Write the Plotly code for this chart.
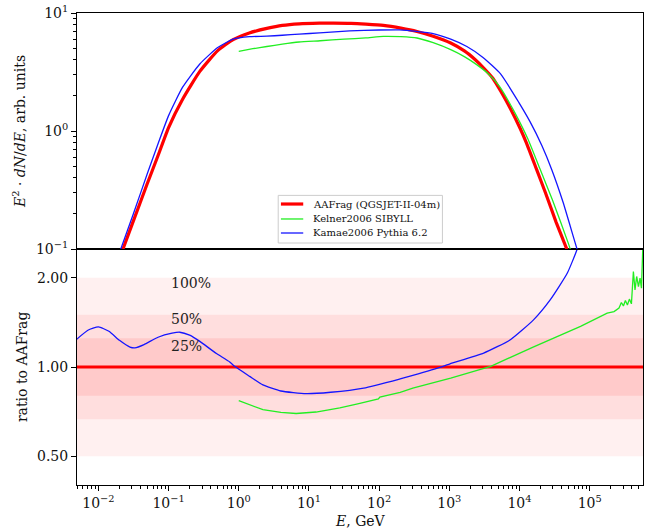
import math
import plotly.graph_objects as go

# ---------------- data ----------------
# top panel: log10(E / GeV) and E^2 dN/dE (arb. units)
aafrag_logE = [-1.65, -1.5, -1.31, -1.15, -1.0, -0.8, -0.555, -0.3, -0.08, 0.15, 0.4, 0.62,
               0.86, 1.15, 1.35, 1.6, 1.81, 2.06, 2.31, 2.54, 2.77, 3.02, 3.22, 3.37, 3.49,
               3.62, 3.74, 3.87, 4.01, 4.10, 4.245, 4.37, 4.52, 4.674, 4.72]
aafrag_flux = [0.1, 0.174, 0.35, 0.62, 1.07, 1.86, 3.2, 4.8, 5.95, 6.78, 7.4, 7.85,
               8.1, 8.2, 8.22, 8.18, 8.05, 7.85, 7.45, 6.98, 6.35, 5.57, 4.75, 4.02, 3.42,
               2.8, 2.14, 1.55, 1.05, 0.79, 0.47, 0.30, 0.17, 0.1, 0.085]

kelner_logE = [0.0, 0.2, 0.4, 0.62, 0.86, 1.16, 1.5, 1.81, 2.06, 2.31, 2.54, 2.77, 3.02,
               3.22, 3.39, 3.57, 3.72, 3.92, 4.12, 4.29, 4.47, 4.70, 4.76]
kelner_flux = [4.73, 4.98, 5.2, 5.45, 5.68, 5.82, 6.0, 6.15, 6.34, 6.3, 6.14, 5.6, 4.89,
               4.25, 3.65, 3.0, 2.37, 1.48, 0.855, 0.48, 0.26, 0.11, 0.085]

kamae_logE = [-1.70, -1.5, -1.3, -1.15, -1.0, -0.8, -0.555, -0.3, -0.08, 0.15, 0.4, 0.62,
              0.86, 1.15, 1.58, 2.0, 2.29, 2.53, 2.77, 3.02, 3.25, 3.48, 3.73, 3.99, 4.15,
              4.32, 4.46, 4.62, 4.82, 4.86]
kamae_flux = [0.093, 0.2, 0.44, 0.78, 1.35, 2.35, 3.7, 5.1, 6.0, 6.3, 6.36, 6.48,
              6.62, 6.78, 7.05, 7.18, 7.2, 7.0, 6.7, 6.0, 5.2, 4.2, 3.05, 1.75, 1.2,
              0.75, 0.47, 0.25, 0.1, 0.085]

# bottom panel: ratio to AAFrag
kamae_ratio_logE = [-2.31, -2.15, -2.0, -1.85, -1.7, -1.55, -1.48, -1.35, -1.15, -0.95, -0.84,
                    -0.7, -0.555, -0.318, -0.129, -0.058, 0.155, 0.344, 0.6, 0.96, 1.31, 1.78,
                    2.30, 2.48, 2.91, 3.01, 3.49, 3.87, 4.20, 4.44, 4.68, 4.82, 4.86]
kamae_ratio = [1.24, 1.33, 1.365, 1.32, 1.23, 1.167, 1.16, 1.19, 1.26, 1.30, 1.31,
               1.28, 1.22, 1.11, 1.04, 1.005, 0.93, 0.87, 0.83, 0.813, 0.822, 0.849,
               0.912, 0.937, 1.005, 1.025, 1.114, 1.236, 1.442, 1.687, 2.07, 2.49, 2.7]

kelner_ratio_logE = [0.0, 0.344, 0.6, 0.818, 1.1, 1.44, 1.71, 1.99, 2.01, 2.30, 2.48, 3.02,
                     3.59, 4.21, 4.87, 5.25, 5.347, 5.418, 5.452, 5.481, 5.509, 5.538, 5.566,
                     5.595, 5.623, 5.646, 5.670, 5.695, 5.718, 5.738, 5.756, 5.78]
kelner_ratio = [0.77, 0.718, 0.703, 0.697, 0.705, 0.728, 0.752, 0.78, 0.792, 0.821, 0.849, 0.918,
                1.005, 1.172, 1.371, 1.52, 1.538, 1.581, 1.65, 1.607, 1.675, 1.618, 1.694,
                1.633, 2.10, 1.82, 2.02, 1.866, 1.994, 1.845, 2.48, 2.8]

aafrag_ratio_logE = [-2.31, 5.78]
aafrag_ratio = [1.0, 1.0]

band_labels = ["100%", "50%", "25%"]
band_upper = [2.0, 1.5, 1.25]
band_lower = [0.5, 0.6667, 0.8]
band_label_y = [1.92, 1.45, 1.18]
band_colors = ["#fff0f0", "#ffdede", "#ffcaca"]

legend_names = ["AAFrag (QGSJET-II-04m)", "Kelner2006 SIBYLL", "Kamae2006 Pythia 6.2"]
series_colors = ["#ff0000", "#22ee22", "#1515ff"]
series_widths = [3.2, 1.3, 1.3]

x_tick_exp = [-2, -1, 0, 1, 2, 3, 4, 5]
top_tick_exp = [-1, 0, 1]
ratio_ticks = [0.5, 1.0, 2.0]
ratio_ticktext = ["0.50", "1.00", "2.00"]

FONT = "DejaVu Serif"


def e(logs):
    return [10 ** v for v in logs]


def sup(p):
    return "10<sup>" + ("\u2212" if p < 0 else "") + str(abs(p)) + "</sup>"


fig = go.Figure()

top_series = [(aafrag_logE, aafrag_flux), (kelner_logE, kelner_flux), (kamae_logE, kamae_flux)]
for (lx, ly), nm, col, w in zip(top_series, legend_names, series_colors, series_widths):
    fig.add_trace(go.Scatter(x=e(lx), y=ly, mode="lines", name=nm,
                             line=dict(color=col, width=w, shape="spline", smoothing=0.5),
                             showlegend=False, xaxis="x2", yaxis="y2"))

bottom_series = [(aafrag_ratio_logE, aafrag_ratio), (kelner_ratio_logE, kelner_ratio),
                 (kamae_ratio_logE, kamae_ratio)]
for i, ((lx, ly), col, w) in enumerate(zip(bottom_series, series_colors, series_widths)):
    shape = "spline" if i == 2 else "linear"
    fig.add_trace(go.Scatter(x=e(lx), y=ly, mode="lines",
                             line=dict(color=col, width=w, shape=shape, smoothing=0.5),
                             showlegend=False, xaxis="x", yaxis="y"))

shapes = []
for lo, hi, col in zip(band_lower, band_upper, band_colors):
    shapes.append(dict(type="rect", xref="x domain", yref="y", x0=0, x1=1, y0=lo, y1=hi,
                       fillcolor=col, line=dict(width=0), layer="below"))

# legend box (drawn by hand to match the compact matplotlib legend)
shapes.append(dict(type="rect", xref="paper", yref="paper", x0=0.3555, x1=0.6456,
                   y0=0.5127, y1=0.6136, fillcolor="white",
                   line=dict(color="#cccccc", width=1), layer="above"))
legend_rows_y = [0.5953, 0.5636, 0.5339]

annotations = []
for nm, col, w, ry in zip(legend_names, series_colors, series_widths, legend_rows_y):
    shapes.append(dict(type="line", xref="paper", yref="paper", x0=0.3603, x1=0.3997,
                       y0=ry, y1=ry, line=dict(color=col, width=w), layer="above"))
    annotations.append(dict(text=nm, x=0.4128, y=ry, xref="paper", yref="paper",
                            xanchor="left", yanchor="middle", showarrow=False,
                            font=dict(family=FONT, size=10, color="#111111")))

for lab, yv in zip(band_labels, band_label_y):
    annotations.append(dict(text=lab, x=-1, y=math.log10(yv), xref="x", yref="y",
                            xanchor="left", yanchor="middle", showarrow=False,
                            font=dict(family=FONT, size=14, color="#222222")))
annotations.append(dict(text="<i>E</i><sup>2</sup> \u00b7 <i>dN</i>/<i>dE</i>, arb. units",
                        x=-0.1025, y=0.75, xref="paper", yref="paper", textangle=-90,
                        xanchor="center", yanchor="middle", showarrow=False,
                        font=dict(family=FONT, size=14, color="#111111")))
annotations.append(dict(text="ratio to AAFrag", x=-0.097, y=0.25, xref="paper", yref="paper",
                        textangle=-90, xanchor="center", yanchor="middle", showarrow=False,
                        font=dict(family=FONT, size=14, color="#111111")))
annotations.append(dict(text="<i>E</i>, GeV", x=0.5, y=-0.0756, xref="paper", yref="paper",
                        xanchor="center", yanchor="middle", showarrow=False,
                        font=dict(family=FONT, size=14, color="#111111")))

minor_x = [k * 10 ** n for n in range(-3, 6) for k in range(2, 10)]
minor_top = [k * 10 ** n for n in range(-2, 1) for k in range(2, 10)]

axis_common = dict(showline=True, linecolor="black", linewidth=1, mirror=True,
                   showgrid=False, zeroline=False, automargin=False,
                   ticklabeloverflow="allow",
                   tickfont=dict(family=FONT, size=14, color="#111111"))

fig.update_layout(
    width=650, height=529,
    margin=dict(l=77, r=7, t=13, b=44, autoexpand=False),
    plot_bgcolor="white", paper_bgcolor="white",
    font=dict(family=FONT, size=14, color="#111111"),
    xaxis=dict(type="log", range=[-2.305, 5.76], domain=[0, 1], anchor="y",
               tickmode="array", tickvals=e(x_tick_exp), ticktext=[sup(p) for p in x_tick_exp],
               ticks="outside", ticklen=5, tickcolor="black",
               minor=dict(tickmode="array", tickvals=minor_x, ticks="outside", ticklen=3,
                          tickcolor="black", showgrid=False),
               **axis_common),
    yaxis=dict(type="log", range=[-0.39794, 0.39794], domain=[0, 0.5], anchor="x",
               tickmode="array", tickvals=ratio_ticks, ticktext=ratio_ticktext,
               ticks="outside", ticklen=5, tickcolor="black", **axis_common),
    xaxis2=dict(type="log", range=[-2.305, 5.76], domain=[0, 1], anchor="y2", matches="x",
                showticklabels=False, ticks="", **axis_common),
    yaxis2=dict(type="log", range=[-1, 1], domain=[0.5, 1], anchor="x2",
                tickmode="array", tickvals=e(top_tick_exp),
                ticktext=[sup(p) for p in top_tick_exp],
                ticks="outside", ticklen=5, tickcolor="black",
                minor=dict(tickmode="array", tickvals=minor_top, ticks="outside", ticklen=3,
                           tickcolor="black", showgrid=False),
                **axis_common),
    shapes=shapes,
    annotations=annotations,
    showlegend=False,
)

# remove the browser's default 8 px body margin so the figure fills the window exactly
fig.write_html("out.html",
               config={"displayModeBar": False},
               post_script="document.body.style.margin='0';"
                           "document.body.style.overflow='hidden';")
